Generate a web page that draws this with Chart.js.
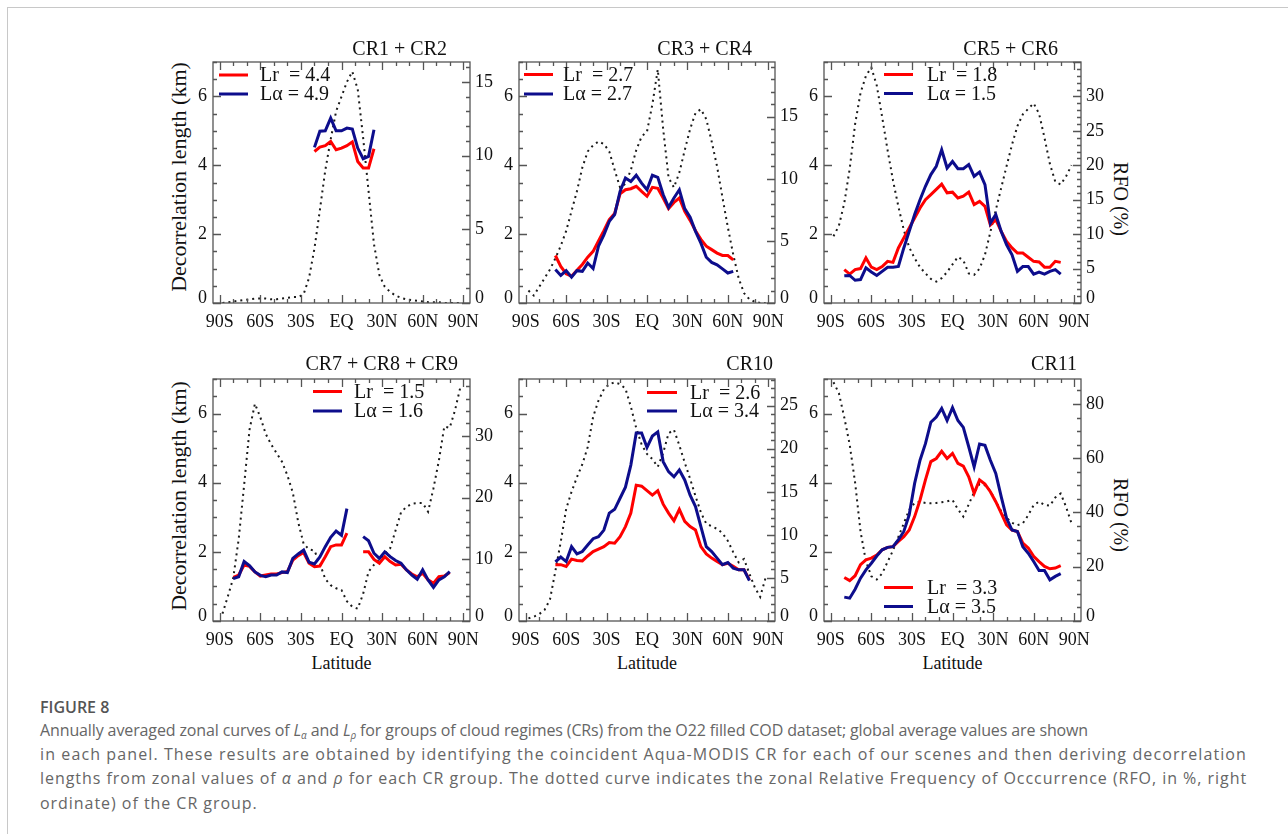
<!DOCTYPE html>
<html>
<head>
<meta charset="utf-8">
<script src="https://cdn.jsdelivr.net/npm/chart.js@4.4.1/dist/chart.umd.min.js"></script>
<style>
html,body{margin:0;padding:0;background:#fff;}
body{width:1288px;height:834px;position:relative;overflow:hidden;}
#frame{position:absolute;left:7px;top:7px;width:1300px;height:840px;border-left:1px solid #c8c8c8;border-top:1px solid #c8c8c8;}
canvas{position:absolute;}
.lbl{position:absolute;font-family:"Liberation Serif",serif;color:#111;white-space:nowrap;transform:translate(-50%,-50%);line-height:1;}
.rotL{transform:translate(-50%,-50%) rotate(-90deg);}
.rotR{transform:translate(-50%,-50%) rotate(90deg);}
#capTitle{position:absolute;left:40px;top:696px;font-family:"Open Sans",sans-serif;font-weight:600;font-size:16px;color:#555;white-space:nowrap;line-height:22px;}
.capLine{position:absolute;left:40px;font-family:"Open Sans",sans-serif;font-size:16px;color:#666;white-space:nowrap;line-height:22px;}
.capLine sub{font-size:10px;vertical-align:-3px;line-height:0;}
</style>
</head>
<body>
<div id="frame"></div>

<div class="lbl rotL" style="left:179px;top:177px;font-size:22px;">Decorrelation length (km)</div>
<div class="lbl rotL" style="left:179px;top:496px;font-size:22px;">Decorrelation length (km)</div>
<div class="lbl rotR" style="left:1121px;top:199px;font-size:20px;">RFO (%)</div>
<div class="lbl rotR" style="left:1121px;top:515px;font-size:20px;">RFO (%)</div>
<div class="lbl" style="left:341.5px;top:663px;font-size:18px;">Latitude</div>
<div class="lbl" style="left:647px;top:663px;font-size:18px;">Latitude</div>
<div class="lbl" style="left:952.5px;top:663px;font-size:18px;">Latitude</div>

<div id="capTitle">FIGURE 8</div>
<div class="capLine" style="top:719px;"><span>Annually averaged zonal curves of <i>L</i><sub><i>α</i></sub> and <i>L</i><sub><i>ρ</i></sub> for groups of cloud regimes (CRs) from the O22 filled COD dataset; global average values are shown</span></div>
<div class="capLine" style="top:743px;"><span>in each panel. These results are obtained by identifying the coincident Aqua-MODIS CR for each of our scenes and then deriving decorrelation</span></div>
<div class="capLine" style="top:767px;"><span>lengths from zonal values of <i>α</i> and <i>ρ</i> for each CR group. The dotted curve indicates the zonal Relative Frequency of Occcurrence (RFO, in %, right</span></div>
<div class="capLine" style="top:792px;"><span>ordinate) of the CR group.</span></div>

<script>
// ---------------- DATA ----------------
const N = null;
const LAT = [-88,-84,-80,-76,-72,-68,-64,-60,-56,-52,-48,-44,-40,-36,-32,-28,-24,-20,-16,-12,-8,-4,0,4,8,12,16,20,24,28,32,36,40,44,48,52,56,60,64,68,72,76,80,84,88];

const X_TICKS = [-90,-60,-30,0,30,60,90];
const X_LABELS = ['90S','60S','30S','EQ','30N','60N','90N'];
const Y_TICKS = [0,2,4,6];

const TITLES = ['CR1 + CR2','CR3 + CR4','CR5 + CR6','CR7 + CR8 + CR9','CR10','CR11'];
const LR_GLOBAL = ['4.4','2.7','1.8','1.5','2.6','3.3'];
const LA_GLOBAL = ['4.9','2.7','1.5','1.6','3.4','3.5'];

const RFO_TICKS_1 = [0,5,10,15];
const RFO_TICKS_2 = [0,5,10,15];
const RFO_TICKS_3 = [0,5,10,15,20,25,30];
const RFO_TICKS_4 = [0,10,20,30];
const RFO_TICKS_5 = [0,5,10,15,20,25];
const RFO_TICKS_6 = [0,20,40,60,80];

// CR1 + CR2
const LR_1 = [N,N,N,N,N,N,N,N,N,N,N,N,N,N,N,N,N,4.40,4.53,4.57,4.69,4.45,4.50,4.57,4.68,4.11,3.92,3.92,4.48,N,N,N,N,N,N,N,N,N,N,N,N,N,N,N,N];
const LA_1 = [N,N,N,N,N,N,N,N,N,N,N,N,N,N,N,N,N,4.52,4.99,5.00,5.37,5.00,5.00,5.08,5.05,4.50,4.19,4.26,5.03,N,N,N,N,N,N,N,N,N,N,N,N,N,N,N,N];
const RFO_1 = [0,0.05,0.1,0.15,0.2,0.25,0.3,0.3,0.3,0.25,0.25,0.3,0.35,0.4,0.4,0.6,1.7,3.7,6.3,9.0,11.1,13.0,14.0,15.0,15.7,14.5,11.2,7.6,4.0,1.9,1.1,0.75,0.5,0.35,0.25,0.2,0.15,0.1,0.05,0.05,0.05,0,0,0,0];

// CR3 + CR4
const LR_2 = [N,N,N,N,N,1.38,1.06,0.85,0.78,0.95,1.12,1.33,1.5,1.8,2.1,2.42,2.6,3.17,3.29,3.32,3.39,3.24,3.1,3.36,3.33,3.05,2.74,2.92,3.05,2.66,2.4,2.1,1.85,1.65,1.55,1.45,1.38,1.38,1.25,N,N,N,N,N,N];
const LA_2 = [N,N,N,N,N,0.97,0.80,0.94,0.75,0.94,0.92,1.16,1.0,1.65,1.98,2.37,2.57,3.24,3.63,3.53,3.71,3.48,3.29,3.71,3.65,3.15,2.78,3.05,3.29,2.74,2.49,2.08,1.74,1.33,1.18,1.11,0.99,0.87,0.92,N,N,N,N,N,N];
const RFO_2 = [1.0,0.6,1.3,2.0,2.7,3.6,4.6,5.8,7.4,9.0,10.9,12.2,12.7,13.0,12.8,12.2,10.7,9.3,9.6,10.7,12.3,13.4,13.8,16.0,18.8,14.0,10.1,9.3,10.5,12.3,14.0,15.3,15.6,14.8,13.0,11.0,8.5,6.1,3.9,2.0,0.8,0.3,0.1,0,0];

// CR5 + CR6
const LR_3 = [N,N,0.97,0.84,0.97,1.0,1.31,1.04,0.97,1.06,1.21,1.18,1.6,1.89,2.18,2.47,2.76,3.0,3.15,3.3,3.45,3.2,3.22,3.05,3.1,3.22,2.86,2.95,2.81,2.27,2.42,2.08,1.79,1.6,1.45,1.45,1.33,1.21,1.19,1.04,1.04,1.21,1.18,N,N];
const LA_3 = [N,N,0.79,0.80,0.66,0.68,1.02,0.9,0.8,0.92,1.04,1.04,1.06,1.6,2.08,2.57,3.0,3.39,3.73,3.97,4.45,3.92,4.11,3.9,3.9,4.02,3.68,3.8,3.44,2.32,2.57,2.08,1.69,1.4,0.92,1.06,1.06,0.84,0.9,0.84,0.92,0.97,0.84,N,N];
const RFO_3 = [9.7,11.2,14.5,19.5,26,30.5,33,34.2,31.6,27,22.2,17.8,14,10.6,8.1,6.5,5.2,4.3,3.5,3.1,3.6,4.5,5.6,6.7,6.2,4.3,4.1,5.0,7.0,10.3,13.5,16.7,19.9,23,25.7,27.4,28.2,29,27.5,24,20.2,17.6,17.2,18.4,20];

// CR7 + CR8 + CR9
const LR_4 = [N,N,1.26,1.33,1.62,1.58,1.42,1.30,1.33,1.36,1.36,1.40,1.43,1.76,1.89,1.98,1.67,1.57,1.59,1.86,2.15,2.2,2.2,2.54,N,N,2.0,2.0,1.78,1.67,1.86,1.72,1.62,1.64,1.48,1.36,1.28,1.38,1.19,1.09,1.28,1.30,1.4,N,N];
const LA_4 = [N,N,1.23,1.28,1.72,1.6,1.42,1.32,1.28,1.33,1.33,1.42,1.40,1.81,1.94,2.05,1.7,1.65,1.85,2.15,2.42,2.6,2.48,3.25,N,N,2.44,2.32,1.96,1.81,2.0,1.86,1.75,1.67,1.48,1.33,1.21,1.48,1.19,0.97,1.19,1.28,1.43,N,N];
const RFO_4 = [1.2,4.0,7.0,13.3,22,31,35.2,33,30.3,28.6,27.2,25.8,23.6,20.8,16,12.5,11.6,11.4,9.3,6.8,5.8,5.3,5.0,3.2,2.3,2.0,4.4,8.0,9.1,10.0,10.8,11.8,14.7,17.6,18.5,19.0,19.1,19.1,17.7,21.5,26.0,31.5,31.3,34.2,38];

// CR10
const LR_5 = [N,N,N,N,N,1.63,1.63,1.58,1.79,1.75,1.74,1.88,2.01,2.08,2.15,2.27,2.25,2.44,2.73,3.12,3.93,3.90,3.77,3.64,3.77,3.38,3.12,2.9,3.23,2.88,2.73,2.63,2.15,1.94,1.82,1.72,1.63,1.67,1.58,1.48,1.48,1.19,N,N,N];
const LA_5 = [N,N,N,N,N,1.71,1.85,1.72,2.15,1.94,2.01,2.2,2.38,2.44,2.63,3.12,3.23,3.55,3.87,4.51,5.44,5.44,5.02,5.35,5.47,4.61,4.32,4.17,4.37,4.08,3.64,3.31,2.73,2.15,2.01,1.82,1.63,1.69,1.53,1.48,1.48,1.17,N,N,N];
const RFO_5 = [0.3,0.5,0.8,1.3,2.5,5.8,9.2,13,15,16.7,18.2,20.2,23.7,25.6,26.9,27.5,27.7,27.5,27,24.9,22.4,20.5,19.4,18.8,17.9,19.5,21.8,22.2,20.4,18.4,16.5,14.5,12.6,11.3,11,10.7,10.2,9.3,8.0,6.8,7.2,5.5,3.9,2.8,5];

// CR11
const LR_6 = [N,N,1.26,1.17,1.31,1.63,1.77,1.82,1.91,2.06,2.13,2.15,2.3,2.44,2.63,3.02,3.5,4.08,4.61,4.7,4.91,4.7,4.85,4.56,4.48,4.17,3.69,4.08,3.96,3.74,3.45,3.12,2.78,2.63,2.59,2.25,2.11,1.87,1.72,1.58,1.51,1.53,1.6,N,N];
const LA_6 = [N,N,0.69,0.66,0.92,1.24,1.48,1.67,1.88,2.06,2.13,2.15,2.35,2.59,3.07,3.98,4.65,5.13,5.75,5.9,6.15,5.8,6.17,5.8,5.6,5.04,4.46,5.12,5.08,4.65,4.27,3.6,2.97,2.63,2.59,2.15,1.96,1.72,1.46,1.46,1.19,1.29,1.37,N,N];
const RFO_6 = [88,84,75,65,51,33,22,16.5,15.3,17.5,21.8,26,31,36,41,43.5,44,43.5,43.4,43.5,43.8,44.1,44.6,41.2,38.5,43,47.5,50.5,50,48,44,40.5,38,36.2,35.3,36,39,42.7,44,42.8,42.5,45.5,47,42,36];

// ---------------- LAYOUT / STYLE ----------------
const RED = '#ff0000', BLUE = '#0d0d8c', DOT = '#1a1a1a', AXIS = '#555555', TXT = '#111111';
const SERIF = '"Liberation Serif", "Times New Roman", serif';
const ML = 60, MR = 60, PT = 40, PB = 40;
const ZERO_LIFT = 5; // px: "0" labels sit slightly above the bottom axis in the original

const PANELS = [
  {l:213, r:470, t:62,  b:303, lr:LR_1, la:LA_1, rfo:RFO_1, rt:RFO_TICKS_1, rmax:16.35, rminor:1, title:{dx:-23,dy:-12.5}, leg:{x0:6,x1:35,tx:47,y1:13,y2:32}},
  {l:519, r:775, t:62,  b:303, lr:LR_2, la:LA_2, rfo:RFO_2, rt:RFO_TICKS_2, rmax:19.4,  rminor:1, title:{dx:-23,dy:-12.5}, leg:{x0:5,x1:34,tx:44,y1:12.5,y2:32}},
  {l:824, r:1081,t:62,  b:303, lr:LR_3, la:LA_3, rfo:RFO_3, rt:RFO_TICKS_3, rmax:35.0,  rminor:1, title:{dx:-23,dy:-12.5}, leg:{x0:60,x1:89,tx:103,y1:12.5,y2:31.5}},
  {l:213, r:470, t:379, b:621, lr:LR_4, la:LA_4, rfo:RFO_4, rt:RFO_TICKS_4, rmax:39.2,  rminor:2, title:{dx:-12,dy:-14}, leg:{x0:100,x1:129,tx:141,y1:12.5,y2:32}},
  {l:519, r:775, t:379, b:621, lr:LR_5, la:LA_5, rfo:RFO_5, rt:RFO_TICKS_5, rmax:28.1,  rminor:1, title:{dx:-2,dy:-14}, leg:{x0:128,x1:158,tx:171,y1:13.5,y2:32}},
  {l:824, r:1081,t:379, b:621, lr:LR_6, la:LA_6, rfo:RFO_6, rt:RFO_TICKS_6, rmax:89.2,  rminor:5, title:{dx:-4,dy:-14}, leg:{x0:60,x1:89,tx:103,y1:208.5,y2:227.5}}
];

function pts(arr){ return LAT.map((x,i)=>({x:x, y:arr[i]})); }

function makePlugin(p, idx){
  return {
    id:'frameTicks'+idx,
    afterDraw(chart){
      const ctx = chart.ctx, a = chart.chartArea, sx = chart.scales.x, sy = chart.scales.y, sy2 = chart.scales.y2;
      ctx.save();
      ctx.strokeStyle = AXIS; ctx.lineWidth = 1.3; ctx.lineCap = 'butt';
      ctx.strokeRect(a.left, a.top, a.right - a.left, a.bottom - a.top);
      const MAJ = 8, MIN = 4;
      ctx.beginPath();
      for (let v = -90; v <= 90; v += 10){
        const x = Math.round(sx.getPixelForValue(v)) + 0.5;
        const len = (v % 30 === 0) ? MAJ : MIN;
        ctx.moveTo(x, a.bottom); ctx.lineTo(x, a.bottom - len);
        ctx.moveTo(x, a.top); ctx.lineTo(x, a.top + len);
      }
      for (let v = 0; v <= 7.0001; v += 0.5){
        const y = Math.round(sy.getPixelForValue(v)) + 0.5;
        const len = (Math.abs(v % 2) < 1e-6) ? MAJ : MIN;
        ctx.moveTo(a.left, y); ctx.lineTo(a.left + len, y);
      }
      const step = p.rt[1] - p.rt[0];
      for (let v = 0; v <= p.rmax + 1e-6; v += p.rminor){
        const y = Math.round(sy2.getPixelForValue(v)) + 0.5;
        const r = v / step;
        const len = (Math.abs(r - Math.round(r)) < 1e-6) ? MAJ : MIN;
        ctx.moveTo(a.right, y); ctx.lineTo(a.right - len, y);
      }
      ctx.stroke();

      ctx.fillStyle = TXT;
      ctx.font = '20px ' + SERIF;
      ctx.textAlign = 'right'; ctx.textBaseline = 'middle';
      ctx.fillText(TITLES[idx], a.right + p.title.dx, a.top + p.title.dy);

      const L = p.leg;
      ctx.lineWidth = 3;
      ctx.strokeStyle = RED; ctx.beginPath();
      ctx.moveTo(a.left + L.x0, a.top + L.y1); ctx.lineTo(a.left + L.x1, a.top + L.y1); ctx.stroke();
      ctx.strokeStyle = BLUE; ctx.beginPath();
      ctx.moveTo(a.left + L.x0, a.top + L.y2); ctx.lineTo(a.left + L.x1, a.top + L.y2); ctx.stroke();
      ctx.textAlign = 'left';
      ctx.fillText('Lr  = ' + LR_GLOBAL[idx], a.left + L.tx, a.top + L.y1 + 1);
      ctx.fillText('L\u03B1 = ' + LA_GLOBAL[idx], a.left + L.tx, a.top + L.y2 + 1);
      ctx.restore();
    }
  };
}

function yTicks(list, plotH){
  return s => {
    const off = ZERO_LIFT / plotH * (s.max - s.min);
    s.ticks = list.map(v => ({value: v === 0 ? v + off : v}));
  };
}

PANELS.forEach((p, idx) => {
  const plotH = p.b - p.t;
  const W = (p.r - p.l) + ML + MR, H = plotH + PT + PB;
  const c = document.createElement('canvas');
  c.width = W; c.height = H;
  c.style.left = (p.l - ML) + 'px'; c.style.top = (p.t - PT) + 'px';
  c.style.width = W + 'px'; c.style.height = H + 'px';
  document.body.appendChild(c);

  const tickFont = {family: SERIF, size: 18};
  new Chart(c, {
    type: 'line',
    data: {
      datasets: [
        {label:'RFO', data: pts(p.rfo), yAxisID:'y2', borderColor:DOT, borderWidth:2, borderDash:[2,4], pointRadius:0, fill:false, tension:0, order:3},
        {label:'Lr', data: pts(p.lr), yAxisID:'y', borderColor:RED, borderWidth:3, pointRadius:0, fill:false, tension:0, spanGaps:false, order:2},
        {label:'L\u03B1', data: pts(p.la), yAxisID:'y', borderColor:BLUE, borderWidth:3, pointRadius:0, fill:false, tension:0, spanGaps:false, order:1}
      ]
    },
    options: {
      responsive:false, animation:false, devicePixelRatio:1,
      layout:{padding:{top:PT, left:0, right:0, bottom:0}},
      plugins:{legend:{display:false}, tooltip:{enabled:false}, title:{display:false}},
      events: [],
      scales:{
        x:{type:'linear', position:'bottom', min:-95, max:95,
           afterBuildTicks:s=>{ s.ticks = X_TICKS.map(v=>({value:v})); },
           afterFit:s=>{ s.height = PB; },
           grid:{display:false, drawTicks:false}, border:{display:false},
           ticks:{font:tickFont, color:TXT, padding:8, maxRotation:0, autoSkip:false,
                  callback:(v, i)=>X_LABELS[i]}},
        y:{type:'linear', position:'left', min:0, max:7,
           afterBuildTicks:yTicks(Y_TICKS, plotH),
           afterFit:s=>{ s.width = ML; },
           grid:{display:false, drawTicks:false}, border:{display:false},
           ticks:{font:tickFont, color:TXT, padding:6, callback:(v, i)=>String(Y_TICKS[i])}},
        y2:{type:'linear', position:'right', min:0, max:p.rmax,
           afterBuildTicks:yTicks(p.rt, plotH),
           afterFit:s=>{ s.width = MR; },
           grid:{display:false, drawTicks:false}, border:{display:false},
           ticks:{font:tickFont, color:TXT, padding:5, callback:(v, i)=>String(p.rt[i])}}
      }
    },
    plugins:[makePlugin(p, idx)]
  });
});

// Caption: per-line letter spacing so each line spans like the reference
const CAP_WIDTHS = [1048, 1207, 1207, null];
function fitCaption(){
  const lines = Array.from(document.querySelectorAll('.capLine'));
  lines.forEach(el => el.style.letterSpacing = '0px');
  let last = 0;
  lines.forEach((el, i) => {
    const span = el.firstElementChild;
    if (CAP_WIDTHS[i]) {
      const w = span.getBoundingClientRect().width;
      last = (CAP_WIDTHS[i] - w) / span.textContent.length;
    }
    el.style.letterSpacing = last.toFixed(3) + 'px';
  });
}
fitCaption();
if (document.fonts && document.fonts.ready) document.fonts.ready.then(fitCaption);
</script>
</body>
</html>
